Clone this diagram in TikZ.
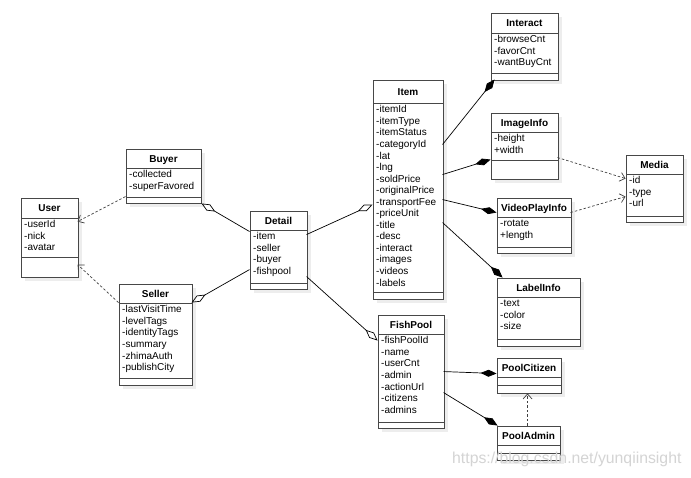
\documentclass[tikz,border=0pt]{standalone}
\usepackage{fontspec}
\setmainfont{Liberation Sans}
\usetikzlibrary{arrows.meta,calc,fit}
\tikzset{
  boxline/.style={draw=black!72, line width=0.9pt},
  shadowfill/.style={fill=black!7},
  titletext/.style={font=\fontsize{10}{12}\selectfont\bfseries, inner sep=0pt, text height=7.2pt, text depth=0pt},
  attrtext/.style={font=\fontsize{10}{11.55}\selectfont, align=left, anchor=north west, inner sep=0pt},
  dep/.style={draw=black!75, line width=0.7pt, dash pattern=on 2.5pt off 2pt, -{Straight Barb[length=5pt,width=9pt]}},
  agg/.style={draw=black, line width=0.7pt, -{Diamond[open,length=16pt,width=7pt]}},
  comp/.style={draw=black, line width=0.7pt, -{Diamond[length=16pt,width=7pt]}},
  watermark/.style={font=\fontsize{15.8}{16}\selectfont, text=black!17, anchor=west, inner sep=0pt},
}
\newcommand\umlclass[9]{%
  \fill[shadowfill] (#2+4,#3+4) rectangle (#4+4,#7+4);
  \node[boxline, fill=white, inner sep=0pt, fit={(#2,#3) (#4,#7)}] (#1) {};
  \draw[boxline] (#2,#5) -- (#4,#5) (#2,#6) -- (#4,#6);
  \node[titletext] (#1-t) at ({(#2+#4)/2},{(#3+#5)/2}) {#8};
  \node[attrtext] (#1-a) at (#2+3,#5+2.2) {\rule{0pt}{7.4pt}#9};
}
\begin{document}
\begin{tikzpicture}[x=1pt,y=-1pt]
\useasboundingbox (0,0) rectangle (691,477);
\fill[white] (0,0) rectangle (691,477);

\umlclass{user}{21}{198}{78}{218}{257}{277}{User}{-userId\\-nick\\-avatar}
\umlclass{buyer}{126}{149}{201}{168}{197}{203}{Buyer}{-collected\\-superFavored}
\umlclass{seller}{119}{284}{192}{303}{378}{385}{Seller}{-lastVisitTime\\-levelTags\\-identityTags\\-summary\\-zhimaAuth\\-publishCity}
\umlclass{detail}{250}{211}{307}{230}{283}{289}{Detail}{-item\\-seller\\-buyer\\-fishpool}
\umlclass{item}{373}{80}{443}{103}{292}{299}{Item}{-itemId\\-itemType\\-itemStatus\\-categoryId\\-lat\\-lng\\-soldPrice\\-originalPrice\\-transportFee\\-priceUnit\\-title\\-desc\\-interact\\-images\\-videos\\-labels}
\umlclass{interact}{491}{13}{558}{33}{73}{80}{Interact}{-browseCnt\\-favorCnt\\-wantBuyCnt}
\umlclass{imageinfo}{491}{113}{558}{132}{160}{179}{ImageInfo}{-height\\+width}
\umlclass{video}{497}{198}{571}{217}{247}{253}{VideoPlayInfo}{-rotate\\+length}
\umlclass{label}{497}{278}{580}{297}{339}{346}{LabelInfo}{-text\\-color\\-size}
\umlclass{media}{626}{155}{683}{174}{216}{222}{Media}{-id\\-type\\-url}
\umlclass{fishpool}{378}{315}{444}{334}{422}{428}{FishPool}{-fishPoolId\\-name\\-userCnt\\-admin\\-actionUrl\\-citizens\\-admins}
\umlclass{poolcitizen}{497}{358}{561}{377}{385}{393}{PoolCitizen}{}
\umlclass{pooladmin}{497}{426}{560}{445}{453}{460}{PoolAdmin}{}

% dependencies
\draw[dep] ($(buyer.north west)+(0,48)$) -- ($(user.north west)+(57,24)$);
\draw[dep] ($(seller.north west)+(0,19)$) -- ($(user.north west)+(57,67)$);
\draw[dep] ($(imageinfo.north west)+(67,45)$) -- ($(media.north west)+(0,24)$);
\draw[dep] ($(video.north west)+(74,15)$) -- ($(media.north west)+(0,42)$);
\draw[dep] ($(pooladmin.north west)+(31,0)$) -- ($(poolcitizen.south west)+(31,0)$);

% aggregations
\draw[agg] ($(detail.north west)+(0,21)$) -- (buyer.south east);
\draw[agg] ($(detail.north west)+(0,59)$) -- ($(seller.north west)+(73,19)$);
\draw[agg] ($(detail.north west)+(57,24)$) -- ($(item.north west)+(0,125)$);
\draw[agg] ($(detail.north west)+(57,66)$) -- ($(fishpool.north west)+(0,26)$);

% compositions
\draw[comp] ($(item.north west)+(70,65)$) -- ($(interact.north west)+(4,67)$);
\draw[comp] ($(item.north west)+(70,95)$) -- ($(imageinfo.north west)+(0,47)$);
\draw[comp] ($(item.north west)+(70,120)$) -- ($(video.north west)+(0,15)$);
\draw[comp] ($(item.north west)+(70,143)$) -- ($(label.north west)+(6,0)$);
\draw[comp] ($(fishpool.north west)+(66,57)$) -- ($(poolcitizen.north west)+(0,16)$);
\draw[comp] ($(fishpool.north west)+(66,78)$) -- ($(pooladmin.north west)+(1,0)$);

\node[watermark] (wm) at (452,459) {https://blog.csdn.net/yunqiinsight};
\end{tikzpicture}
\end{document}
